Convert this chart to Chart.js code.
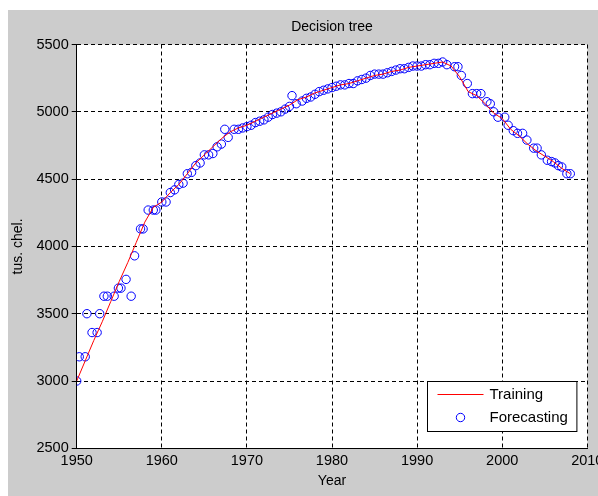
<!DOCTYPE html>
<html>
<head>
<meta charset="utf-8">
<script src="https://cdn.jsdelivr.net/npm/chart.js@4.4.1/dist/chart.umd.min.js"></script>
<style>
  html, body { margin: 0; padding: 0; background: #fff; }
  #frame { position: absolute; left: 8px; top: 10px; width: 590px; height: 486px; background: #cccccc; }
</style>
</head>
<body>
<div id="frame"><canvas id="chart"></canvas></div>
<script>
const trainYears = [
  1950, 1951, 1952, 1953, 1954, 1955, 1956, 1957, 1958, 1959,
  1960, 1961, 1962, 1963, 1964, 1965, 1966, 1967, 1968, 1969,
  1970, 1971, 1972, 1973, 1974, 1975, 1976, 1977, 1978, 1979,
  1980, 1981, 1982, 1983, 1984, 1985, 1986, 1987, 1988, 1989,
  1990, 1991, 1992, 1993, 1994, 1995, 1996, 1997, 1998, 1999,
  2000, 2001, 2002, 2003, 2004, 2005, 2006, 2007, 2008,
];
const trainValues = [
  3000, 3150, 3300, 3440, 3590, 3740, 3880, 4030, 4180, 4290,
  4330, 4400, 4460, 4540, 4620, 4680, 4740, 4800, 4850, 4880,
  4900, 4930, 4960, 4990, 5020, 5050, 5090, 5110, 5140, 5160,
  5180, 5200, 5210, 5230, 5250, 5270, 5280, 5300, 5310, 5330,
  5340, 5350, 5360, 5370, 5340, 5260, 5150, 5120, 5060, 4990,
  4950, 4870, 4820, 4760, 4710, 4670, 4630, 4580, 4540,
];

const forecastYears = [
  1950.0, 1950.3, 1951.0, 1951.2, 1951.8, 1952.4, 1952.7, 1953.2, 1953.6, 1954.4,
  1954.9, 1955.2, 1955.8, 1956.4, 1956.8, 1957.5, 1957.8, 1958.4, 1959.0, 1959.3,
  1960.0, 1960.5, 1961.0, 1961.5, 1962.0, 1962.5, 1963.0, 1963.5, 1964.0, 1964.5,
  1965.0, 1965.5, 1966.0, 1966.5, 1967.0, 1967.4, 1967.8, 1968.5, 1969.0, 1969.5,
  1970.0, 1970.5, 1971.0, 1971.5, 1972.0, 1972.5, 1973.0, 1973.5, 1974.0, 1974.5,
  1975.0, 1975.3, 1975.8, 1976.5, 1977.0, 1977.5, 1978.0, 1978.5, 1979.0, 1979.5,
  1980.0, 1980.5, 1981.0, 1981.5, 1982.0, 1982.5, 1983.0, 1983.5, 1984.0, 1984.5,
  1985.0, 1985.5, 1986.0, 1986.5, 1987.0, 1987.5, 1988.0, 1988.5, 1989.0, 1989.5,
  1990.0, 1990.5, 1991.0, 1991.5, 1992.0, 1992.5, 1993.0, 1993.5, 1994.4, 1994.8,
  1995.2, 1995.9, 1996.5, 1997.0, 1997.5, 1998.2, 1998.6, 1999.0, 1999.5, 2000.3,
  2000.7, 2001.3, 2001.8, 2002.4, 2002.9, 2003.7, 2004.1, 2004.6, 2005.3, 2005.8,
  2006.2, 2006.6, 2007.0, 2007.6, 2008.0,
];
const forecastValues = [
  3000, 3180, 3180, 3500, 3360, 3360, 3500, 3630, 3630, 3630,
  3690, 3690, 3755, 3630, 3930, 4130, 4130, 4270, 4270, 4270,
  4330, 4330, 4400, 4420, 4460, 4470, 4540, 4550, 4600, 4620,
  4680, 4680, 4690, 4740, 4760, 4870, 4810, 4870, 4870, 4880,
  4890, 4900, 4920, 4930, 4940, 4960, 4980, 4990, 5000, 5020,
  5040, 5120, 5060, 5080, 5100, 5110, 5130, 5150, 5160, 5170,
  5180, 5190, 5200, 5200, 5210, 5210, 5230, 5240, 5250, 5270,
  5280, 5280, 5280, 5290, 5300, 5310, 5320, 5320, 5330, 5340,
  5340, 5340, 5350, 5350, 5360, 5360, 5370, 5350, 5335, 5335,
  5270, 5210, 5135, 5135, 5135, 5075, 5060, 5000, 4960, 4960,
  4900, 4860, 4840, 4840, 4790, 4730, 4730, 4680, 4640, 4630,
  4620, 4600, 4590, 4540, 4540,
];

const xTicks = [1950, 1960, 1970, 1980, 1990, 2000, 2010];
const yTicks = [2500, 3000, 3500, 4000, 4500, 5000, 5500];

const fontFamily = '"Liberation Sans", Arial, sans-serif';
const markerRadius = 4.2;

// white plot area on the grey figure
const plotBackground = {
  id: "plotBackground",
  beforeDraw(chart) {
    const { ctx, chartArea: a } = chart;
    ctx.save();
    ctx.fillStyle = "#ffffff";
    ctx.fillRect(a.left, a.top, a.right - a.left, a.bottom - a.top);
    ctx.restore();
  },
};

// MATLAB style boxed legend in the lower right corner
const boxLegend = {
  id: "boxLegend",
  afterDraw(chart) {
    const { ctx, chartArea: a } = chart;
    const ds = chart.data.datasets;
    const w = 149.4, h = 50;
    const x0 = Math.round(a.right - 10.6 - w) + 0.5;
    const y0 = Math.round(a.bottom - 17.3 - h) + 0.5;
    ctx.save();
    ctx.fillStyle = "#ffffff";
    ctx.fillRect(x0, y0, w, h);
    ctx.strokeStyle = "#000000";
    ctx.lineWidth = 1;
    ctx.strokeRect(x0, y0, w, h);

    ctx.strokeStyle = ds[0].borderColor;
    ctx.beginPath();
    ctx.moveTo(x0 + 10, y0 + 13);
    ctx.lineTo(x0 + 56, y0 + 13);
    ctx.stroke();

    ctx.strokeStyle = ds[1].borderColor;
    ctx.beginPath();
    ctx.arc(x0 + 33, y0 + 36, markerRadius, 0, Math.PI * 2);
    ctx.stroke();

    ctx.fillStyle = "#000000";
    ctx.font = "15px " + fontFamily;
    ctx.textBaseline = "middle";
    ctx.textAlign = "left";
    ctx.fillText(ds[0].label, x0 + 62, y0 + 13);
    ctx.fillText(ds[1].label, x0 + 62, y0 + 36);
    ctx.restore();
  },
};

new Chart(document.getElementById("chart"), {
  type: "scatter",
  data: {
    datasets: [
      {
        label: "Training",
        data: trainYears.map((x, i) => ({ x, y: trainValues[i] })),
        showLine: true,
        borderColor: "#ff0000",
        borderWidth: 1,
        pointRadius: 0,
        fill: false,
      },
      {
        label: "Forecasting",
        data: forecastYears.map((x, i) => ({ x, y: forecastValues[i] })),
        showLine: false,
        borderColor: "#0000ff",
        backgroundColor: "rgba(0,0,0,0)",
        borderWidth: 1,
        pointRadius: markerRadius,
        pointHoverRadius: markerRadius,
      },
    ],
  },
  options: {
    responsive: true,
    maintainAspectRatio: false,
    animation: false,
    layout: { padding: { left: 0, right: 10.7, top: 0, bottom: 0 } },
    plugins: {
      legend: { display: false },
      tooltip: { enabled: false },
      title: {
        display: true,
        text: "Decision tree",
        fullSize: false,
        color: "#000",
        font: { family: fontFamily, size: 14, weight: "normal" },
        padding: { top: 8.7, bottom: 9 },
      },
    },
    scales: {
      x: {
        type: "linear",
        min: 1950,
        max: 2010,
        afterBuildTicks: (s) => { s.ticks = xTicks.map((v) => ({ value: v })); },
        afterFit: (s) => {
          s.height = 47.7;
          s.paddingLeft = 0;
          s.paddingRight = 0;
        },
        ticks: {
          color: "#000",
          padding: 4,
          maxRotation: 0,
          font: { family: fontFamily, size: 14.5 },
          callback: (v) => String(v),
        },
        grid: { color: "#000", drawTicks: false, lineWidth: 1 },
        border: { display: true, color: "#000", width: 1, dash: [4, 3] },
        title: {
          display: true,
          text: "Year",
          color: "#000",
          font: { family: fontFamily, size: 14 },
          padding: { top: 0, bottom: 6.6 },
        },
      },
      y: {
        type: "linear",
        min: 2500,
        max: 5500,
        afterBuildTicks: (s) => { s.ticks = yTicks.map((v) => ({ value: v })); },
        afterFit: (s) => {
          s.width = 68.7;
          s.paddingTop = 0;
          s.paddingBottom = 0;
        },
        ticks: {
          color: "#000",
          padding: 3,
          font: { family: fontFamily, size: 14.5 },
          callback: (v) => String(v),
        },
        grid: { color: "#000", drawTicks: true, tickLength: 5, tickColor: "#000", lineWidth: 1 },
        border: { display: true, color: "#000", width: 1, dash: [4, 3] },
        title: {
          display: true,
          text: "tus. chel.",
          color: "#000",
          font: { family: fontFamily, size: 14 },
          padding: { top: 1.6, bottom: 0 },
        },
      },
    },
  },
  plugins: [plotBackground, boxLegend],
});
</script>
</body>
</html>
